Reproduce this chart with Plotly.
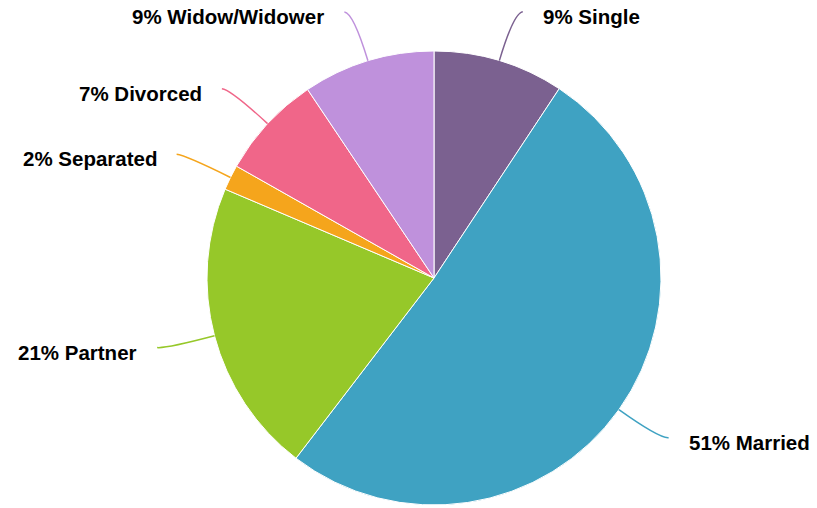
import math
import plotly.graph_objects as go

# Marital status breakdown (percent of respondents)
categories = ["Single", "Married", "Partner", "Separated", "Divorced", "Widow/Widower"]
values = [9.3, 51.1, 21.0, 1.8, 7.4, 9.4]
colors = ["#7b6190", "#3fa2c2", "#96c829", "#f5a51c", "#f06689", "#bf91dc"]

W, H = 817, 508
CX, CY, R = 434, 278, 227  # pie centre and radius in pixels

fig = go.Figure(
    go.Pie(
        labels=categories,
        values=values,
        sort=False,
        direction="clockwise",
        rotation=0,
        textinfo="none",
        hoverinfo="label+percent",
        marker=dict(colors=colors, line=dict(color="white", width=1)),
        domain=dict(x=[(CX - R) / W, (CX + R) / W], y=[(H - CY - R) / H, (H - CY + R) / H]),
        showlegend=False,
    )
)


def px(x, y):
    return x / W, 1 - y / H


total = sum(values)
cum = 0.0
shapes, annotations = [], []
for name, v, c in zip(categories, values, colors):
    mid = (cum + v / 2) / total * 2 * math.pi
    cum += v
    dx, dy = math.sin(mid), -math.cos(mid)
    side = 1 if dx >= 0 else -1
    x0, y0 = CX + R * dx, CY + R * dy
    xc, yc = CX + (R + 50) * dx, CY + (R + 50) * dy
    x1, y1 = xc + side * 9, yc - 1
    p0, pc, p1 = px(x0, y0), px(xc, yc), px(x1, y1)
    shapes.append(
        dict(
            type="path",
            xref="paper",
            yref="paper",
            path=f"M {p0[0]} {p0[1]} Q {pc[0]} {pc[1]} {p1[0]} {p1[1]}",
            line=dict(color=c, width=1.5),
        )
    )
    tx, ty = px(x1 + side * 18, y1 + 4.5)
    annotations.append(
        dict(
            x=tx,
            y=ty,
            xref="paper",
            yref="paper",
            text=f"{round(v / total * 100)}% {name}",
            showarrow=False,
            xanchor="left" if side > 0 else "right",
            yanchor="middle",
            font=dict(family="Liberation Sans, Arial, sans-serif", size=20.5, color="#000000", weight="bold"),
        )
    )

fig.update_layout(
    width=W,
    height=H,
    margin=dict(l=0, r=0, t=0, b=0),
    paper_bgcolor="white",
    plot_bgcolor="white",
    shapes=shapes,
    annotations=annotations,
)

fig.write_html("out.html")
